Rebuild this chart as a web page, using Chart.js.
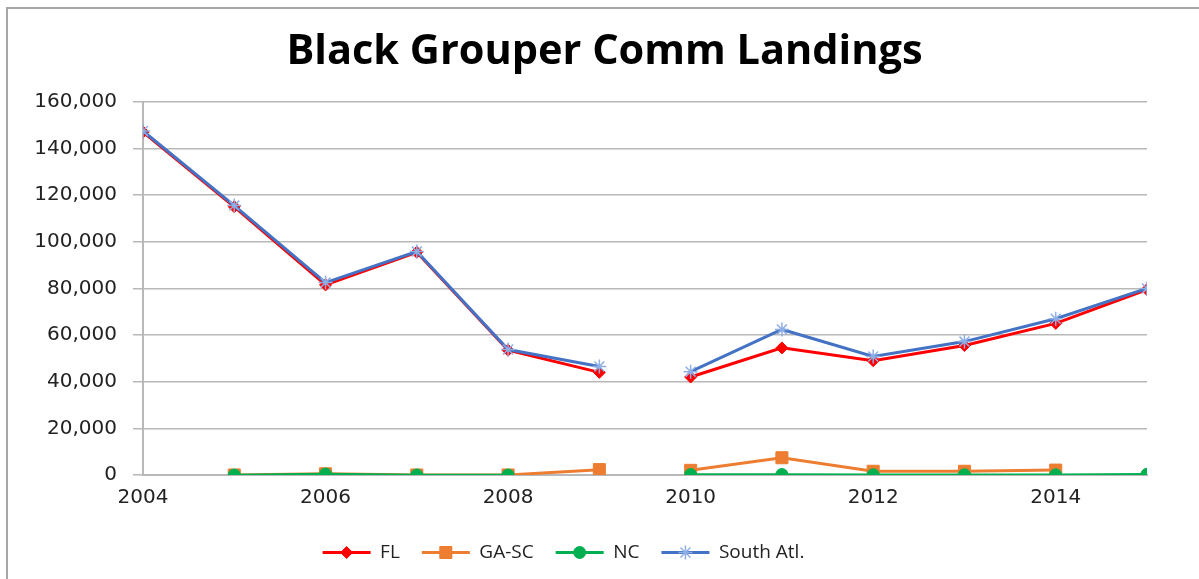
<!DOCTYPE html>
<html><head><meta charset="utf-8">
<script src="https://cdn.jsdelivr.net/npm/chart.js@4"></script>
<style>
html,body{margin:0;padding:0;background:#fff;}
#wrap{position:relative;width:1199px;height:579px;}
#frame{position:absolute;left:6px;top:7px;right:0;bottom:0;border-top:2px solid #a6a6a6;border-left:2px solid #a6a6a6;pointer-events:none;}
</style></head><body>
<div id="wrap"><canvas id="c" width="1199" height="579"></canvas><div id="frame"></div></div>
<script>
const chartTitle = 'Black Grouper Comm Landings';
const years = [2004, 2005, 2006, 2007, 2008, 2009, 2010, 2011, 2012, 2013, 2014, 2015];
const seriesNames = ['FL', 'GA-SC', 'NC', 'South Atl.'];
const flValues   = [147000, 115000, 81500, 95500, 53500, 44000, 42000, 54500, 49000, 55500, 65000, 79500];
const gascValues = [null, 0, 500, 0, 0, 2300, 2000, 7400, 1600, 1600, 2100, null];
const ncValues   = [null, 0, 400, 0, 0, null, 200, 200, 100, 100, 100, 300];
const saValues   = [147500, 115500, 82500, 95800, 53800, 46500, 44300, 62400, 50800, 57200, 67000, 80000];
const yTickMin = 0, yTickMax = 160000, yTickStep = 20000;
const xTickMin = 2004, xTickMax = 2015, xTickStep = 2;
const gapAfterYear = 2009; // lines are broken between this year and the next

function toPoints(vals) { return years.map((y, i) => ({ x: y, y: vals[i] })); }

const brokenSegment = {
  borderColor: ctx => (ctx.p0.parsed.x <= gapAfterYear && ctx.p1.parsed.x > gapAfterYear) ? 'rgba(0,0,0,0)' : undefined
};

const TITLE_SHIFT = 31;   // title is centred a little right of the plot centre
const LEGEND_SHIFT = -10; // legend a little left

const blockShift = {
  id: 'blockShift',
  afterLayout(chart) {
    if (chart.titleBlock) { chart.titleBlock.left += TITLE_SHIFT; chart.titleBlock.right += TITLE_SHIFT; }
    if (chart.legend) { chart.legend.left += LEGEND_SHIFT; chart.legend.right += LEGEND_SHIFT; }
  }
};

const legendMarkers = {
  id: 'legendMarkers',
  afterDraw(chart) {
    const lg = chart.legend;
    if (!lg || !lg.legendHitBoxes) return;
    const ctx = chart.ctx;
    const bw = lg.options.labels.boxWidth;
    const fs = lg.options.labels.font.size;
    lg.legendItems.forEach((item, i) => {
      const hb = lg.legendHitBoxes[i];
      if (!hb) return;
      const ds = chart.data.datasets[item.datasetIndex];
      const x = hb.left + bw / 2, y = hb.top + fs / 2;
      ctx.save();
      ctx.fillStyle = ds.pointBackgroundColor;
      ctx.strokeStyle = ds.pointBorderColor;
      ctx.lineWidth = ds.pointBorderWidth;
      Chart.helpers.drawPoint(ctx, { pointStyle: ds.pointStyle, radius: ds.pointRadius, borderWidth: ds.pointBorderWidth, rotation: 0 }, x, y);
      ctx.restore();
    });
  }
};

const tickFont = { family: 'DejaVu Sans', size: 20 };

new Chart(document.getElementById('c'), {
  type: 'line',
  data: {
    datasets: [
      { label: seriesNames[0], data: toPoints(flValues), borderColor: '#ff0000', backgroundColor: '#ff0000', borderWidth: 3,
        pointStyle: 'rectRot', pointRadius: 6, pointBackgroundColor: '#ff0000', pointBorderColor: '#ff0000', pointBorderWidth: 1, order: 4, segment: brokenSegment },
      { label: seriesNames[1], data: toPoints(gascValues), borderColor: '#ed7d31', backgroundColor: '#ed7d31', borderWidth: 3,
        pointStyle: 'rect', pointRadius: 8.5, pointBackgroundColor: '#ed7d31', pointBorderColor: '#ed7d31', pointBorderWidth: 1, order: 3, segment: brokenSegment },
      { label: seriesNames[2], data: toPoints(ncValues), borderColor: '#00b050', backgroundColor: '#00b050', borderWidth: 2.5,
        pointStyle: 'circle', pointRadius: 6, pointBackgroundColor: '#00b050', pointBorderColor: '#00b050', pointBorderWidth: 1, order: 2, segment: brokenSegment },
      { label: seriesNames[3], data: toPoints(saValues), borderColor: '#4472c4', backgroundColor: '#4472c4', borderWidth: 3,
        pointStyle: 'star', pointRadius: 7, pointBackgroundColor: '#8eaee6', pointBorderColor: '#8eaee6', pointBorderWidth: 1.5, order: 1, segment: brokenSegment }
    ]
  },
  options: {
    responsive: false,
    animation: false,
    spanGaps: false,
    layout: { padding: { left: 0, right: 52, top: 0, bottom: 7 } },
    scales: {
      x: {
        type: 'linear', min: xTickMin, max: xTickMax,
        grid: { display: false },
        border: { display: true, color: '#b8b8b8', width: 2 },
        ticks: { stepSize: xTickStep, includeBounds: false, font: tickFont, color: '#222', padding: 3, maxRotation: 0,
                 callback: v => String(v) },
        afterFit: s => { s.height = 46; }
      },
      y: {
        min: yTickMin, max: yTickMax,
        grid: { color: '#b8b8b8', lineWidth: 1.5, tickLength: 10 },
        border: { display: true, color: '#b8b8b8', width: 2 },
        ticks: { stepSize: yTickStep, font: tickFont, color: '#222', padding: 16,
                 callback: v => v.toLocaleString('en-US') },
        afterFit: s => { s.width = 143; }
      }
    },
    plugins: {
      title: { display: true, text: chartTitle, font: { family: 'Open Sans', size: 41.5, weight: 'bold' }, color: '#000',
               padding: { top: 27, bottom: 25 } },
      legend: {
        position: 'bottom',
        labels: {
          boxWidth: 48, boxHeight: 3, padding: 22, color: '#222',
          font: { family: 'Open Sans', size: 19 },
          generateLabels(chart) {
            const items = Chart.defaults.plugins.legend.labels.generateLabels(chart);
            return items.map(it => {
              const ds = chart.data.datasets[it.datasetIndex];
              return Object.assign({}, it, { fillStyle: ds.borderColor, strokeStyle: ds.borderColor, lineWidth: 0 });
            }).sort((a, b) => a.datasetIndex - b.datasetIndex);
          }
        }
      },
      tooltip: { enabled: false }
    }
  },
  plugins: [blockShift, legendMarkers]
});
</script>
</body></html>
